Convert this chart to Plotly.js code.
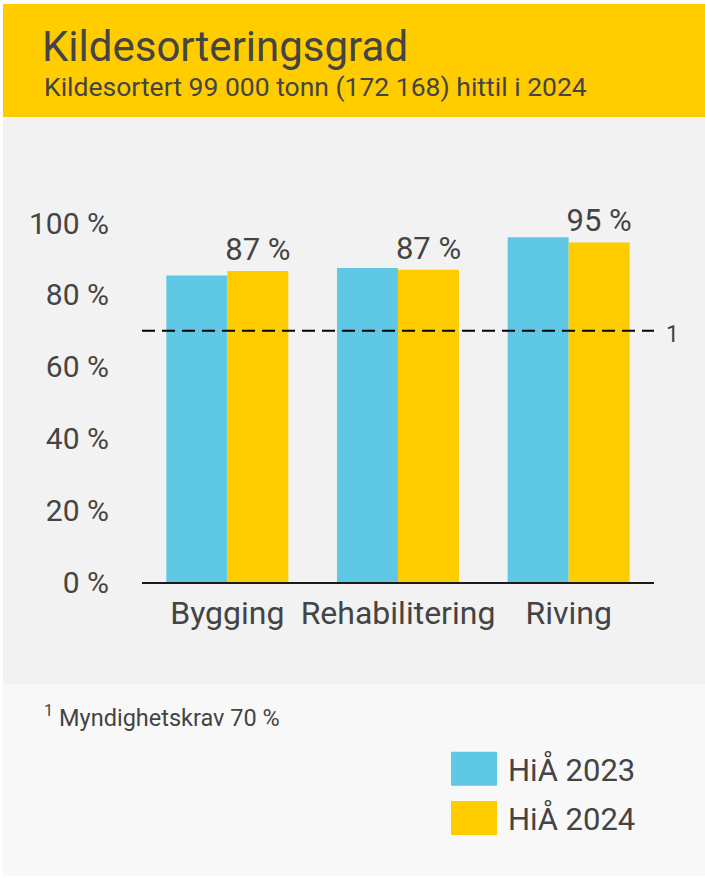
<!DOCTYPE html>
<html>
<head>
<meta charset="utf-8">
<script src="https://cdn.plot.ly/plotly-3.0.1.min.js"></script>
<style>
  html, body { margin: 0; padding: 0; background: #ffffff; }
  #wrap { position: relative; width: 705px; height: 878px; overflow: hidden; }
  .bg { position: absolute; left: 3px; width: 702px; }
  #head { top: 4px; height: 113px; background: #FFCC00; }
  #panel { top: 117px; height: 567px; background: #F2F2F2; }
  #foot { top: 684px; height: 192px; background: #F8F8F8; }
  #chart { position: absolute; left: 0; top: 0; width: 705px; height: 878px; }
</style>
</head>
<body>
<div id="wrap">
  <div class="bg" id="head"></div>
  <div class="bg" id="panel"></div>
  <div class="bg" id="foot"></div>
  <div id="chart"></div>
</div>
<script>
// ---- data ----
const categories = ["Bygging", "Rehabilitering", "Riving"];
const seriesNames = ["HiÅ 2023", "HiÅ 2024"];
const values2023 = [85.4, 87.5, 96.0];
const values2024 = [86.6, 87.0, 94.6];
const requirement = 70;
const yTickValues = [0, 20, 40, 60, 80, 100];
const yTickLabels = ["0 %", "20 %", "40 %", "60 %", "80 %", "100 %"];
const titleText = "Kildesorteringsgrad";
const subtitleText = "Kildesortert 99 000 tonn (172 168) hittil i 2024";
const footnoteText = "<sup>1</sup> Myndighetskrav 70 %";
const footnoteMark = "1";

// ---- layout geometry ----
const W = 705, H = 878;
const M = { l: 142, r: 51, t: 223, b: 296, autoexpand: false };
const pw = W - M.l - M.r, ph = H - M.t - M.b;
const px2x = p => (p - M.l) / pw;
const px2y = p => (H - M.b - p) / ph;

const textColor = "#444444";
const font = "Roboto, 'Noto Sans', sans-serif";
const blue = "#5EC8E5", yellow = "#FFCC00";

const traces = [
  {
    type: "bar", name: seriesNames[0], x: categories, y: values2023,
    marker: { color: blue }, legendgroup: "a", hoverinfo: "skip"
  },
  {
    type: "bar", name: seriesNames[1], x: categories, y: values2024,
    marker: { color: yellow }, legendgroup: "b",
    texttemplate: "%{y:.0f} %", textposition: "outside", cliponaxis: false,
    constraintext: "none",
    textfont: { size: 31, color: textColor, family: font }, hoverinfo: "skip"
  }
];

const layout = {
  width: W, height: H,
  margin: M,
  paper_bgcolor: "rgba(0,0,0,0)",
  plot_bgcolor: "rgba(0,0,0,0)",
  font: { family: font, color: textColor },
  barmode: "group",
  bargap: 0.285,
  bargroupgap: 0,
  title: {
    text: titleText,
    font: { size: 42, color: textColor, family: font },
    xref: "container", x: 42 / W, xanchor: "left",
    yref: "container", y: 1 - 46 / H, yanchor: "middle"
  },
  xaxis: {
    type: "category", range: [-0.5, 2.5], tickangle: 0,
    showline: true, linecolor: "#1a1a1a", linewidth: 1.5,
    showgrid: false, zeroline: false, ticks: "",
    tickfont: { size: 32, color: textColor, family: font },
    ticklabelstandoff: 2, fixedrange: true, automargin: false
  },
  yaxis: {
    range: [0, 100], tickmode: "array", tickvals: yTickValues, ticktext: yTickLabels,
    showline: false, showgrid: false, zeroline: false, ticks: "",
    tickfont: { size: 30, color: textColor, family: font },
    ticklabelstandoff: 32, fixedrange: true, automargin: false
  },
  shapes: [{
    type: "line", xref: "paper", x0: 0, x1: 1, yref: "y", y0: requirement, y1: requirement,
    line: { color: "#000000", width: 2, dash: "13px,7px" }, layer: "above"
  }],
  annotations: [
    {
      text: subtitleText, xref: "paper", x: px2x(42), xanchor: "left",
      yref: "paper", y: px2y(86), yanchor: "middle", showarrow: false,
      font: { size: 26.5, color: textColor, family: font }
    },
    {
      text: footnoteMark, xref: "paper", x: 1, xanchor: "left", xshift: 10,
      yref: "y", y: requirement, yanchor: "middle", yshift: -4, showarrow: false,
      font: { size: 23, color: textColor, family: font }
    },
    {
      text: footnoteText, xref: "paper", x: px2x(42), xanchor: "left",
      yref: "paper", y: px2y(716), yanchor: "middle", showarrow: false,
      font: { size: 23.5, color: textColor, family: font }
    }
  ],
  showlegend: true,
  legend: {
    xref: "container", yref: "container",
    x: 440 / W, xanchor: "left", y: 1 - 742 / H, yanchor: "top",
    bgcolor: "rgba(0,0,0,0)", borderwidth: 0,
    font: { size: 31, color: textColor, family: font },
    itemwidth: 58, traceorder: "grouped", tracegroupgap: 6,
    itemclick: false, itemdoubleclick: false
  },
  hovermode: false
};

Plotly.newPlot("chart", traces, layout, { displayModeBar: false, staticPlot: true }).then(gd => {
  gd.querySelectorAll(".legend path.legendbar, .legend path.legendundefined").forEach(p => {
    p.setAttribute("d", "M23,17H-23V-17H23Z");
  });
});
</script>
</body>
</html>
